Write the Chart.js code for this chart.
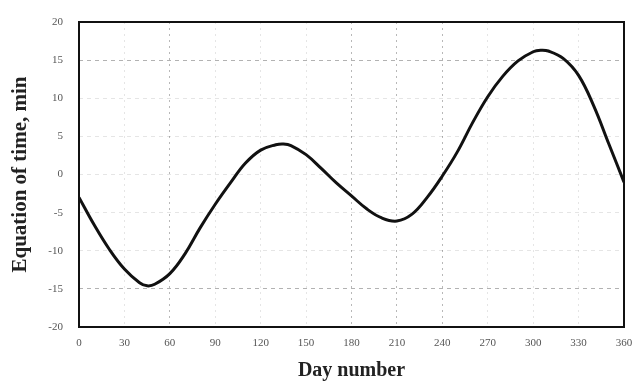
<!DOCTYPE html>
<html>
<head>
<meta charset="utf-8">
<script src="https://cdn.jsdelivr.net/npm/chart.js@4"></script>
<style>
html,body{margin:0;padding:0;background:#fff;}
</style>
</head>
<body>
<canvas id="c" width="636" height="383"></canvas>
<script>
const days = [0,10,20,30,40,45,50,60,70,80,90,100,110,120,130,135,140,150,160,170,180,190,200,210,220,230,240,250,260,270,280,290,300,305,310,320,330,340,350,360];
const eot  = [-3.0,-6.6,-9.8,-12.4,-14.2,-14.6,-14.4,-13.0,-10.4,-7.0,-3.9,-1.1,1.5,3.2,3.9,4.0,3.8,2.6,0.8,-1.1,-2.8,-4.5,-5.7,-6.1,-5.2,-3.0,-0.2,3.0,6.8,10.2,12.9,14.9,16.1,16.3,16.2,15.2,13.0,9.0,4.0,-1.0];
const xTicks = [0,30,60,90,120,150,180,210,240,270,300,330,360];
const yTicks = [-20,-15,-10,-5,0,5,10,15,20];
const xStrong = [60,180,210,240];
const yStrong = [-15,15];

const pts = days.map((d,i)=>({x:d,y:eot[i]}));

const frame = {
  id:'frame',
  afterDatasetsDraw(chart){
    const {ctx, chartArea:a} = chart;
    ctx.save();
    ctx.strokeStyle='#111';
    ctx.lineWidth=2;
    ctx.strokeRect(a.left, a.top, a.right-a.left, a.bottom-a.top);
    ctx.restore();
  }
};

const serif = "'Liberation Serif','DejaVu Serif',serif";

new Chart(document.getElementById('c'), {
  type:'scatter',
  data:{datasets:[{
    data:pts, showLine:true, borderColor:'#111', borderWidth:3,
    pointRadius:0, tension:0.4, fill:false
  }]},
  options:{
    responsive:false, animation:false,
    layout:{padding:{left:8,right:12,top:22,bottom:0}},
    plugins:{legend:{display:false}, tooltip:{enabled:false}},
    scales:{
      x:{
        type:'linear', min:0, max:360,
        afterBuildTicks(s){ s.ticks = xTicks.map(v=>({value:v})); },
        afterFit(s){ s.height = 56; s.paddingLeft = 0; s.paddingRight = 0; },
        grid:{
          drawTicks:false,
          color:(c)=> xStrong.includes(c.tick && c.tick.value) ? 'rgba(0,0,0,0.28)' : 'rgba(0,0,0,0.10)',
          lineWidth:1
        },
        border:{display:false, dash:[2,4]},
        ticks:{color:'#555', font:{family:serif,size:11}, padding:10, maxRotation:0},
        title:{display:true, text:'Day number', color:'#222', font:{family:serif,size:20,weight:'bold'}, padding:{top:4,bottom:0}}
      },
      y:{
        min:-20, max:20,
        afterBuildTicks(s){ s.ticks = yTicks.map(v=>({value:v})); },
        afterFit(s){ s.width = 71; s.paddingTop = 0; s.paddingBottom = 0; },
        grid:{
          drawTicks:false,
          color:(c)=> yStrong.includes(c.tick && c.tick.value) ? 'rgba(0,0,0,0.30)' : 'rgba(0,0,0,0.10)',
          lineWidth:1
        },
        border:{display:false, dash:[4,4]},
        ticks:{color:'#555', font:{family:serif,size:11}, padding:16},
        title:{display:true, text:'Equation of time, min', color:'#222', font:{family:serif,size:21,weight:'bold'}, padding:{top:0,bottom:0}}
      }
    }
  },
  plugins:[frame]
});
</script>
</body>
</html>
